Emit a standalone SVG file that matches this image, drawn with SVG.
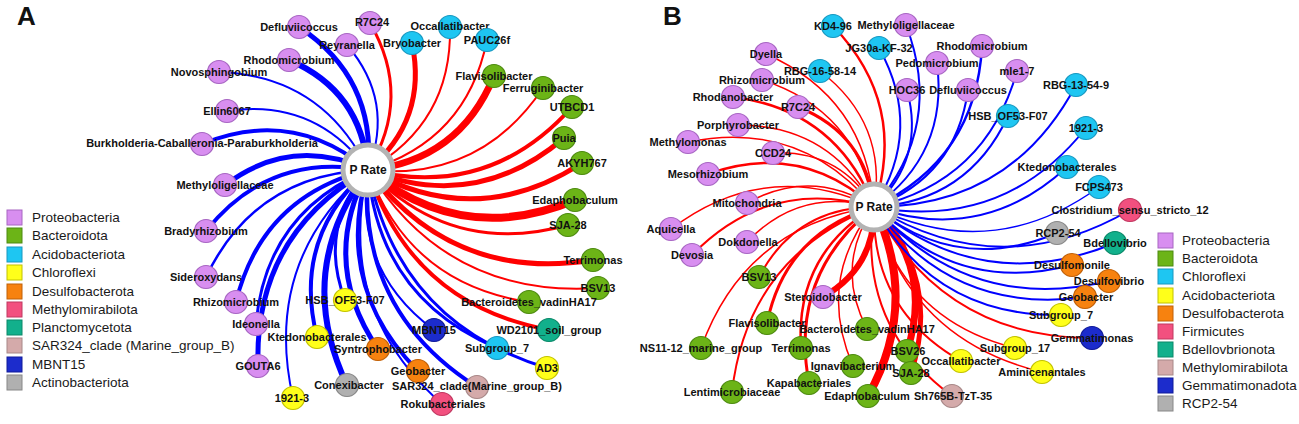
<svg xmlns="http://www.w3.org/2000/svg" width="1299" height="424" viewBox="0 0 1299 424">
<style>
text{font-family:"Liberation Sans",Arial,sans-serif;fill:#111}
.lb{font-size:11px;font-weight:bold;text-anchor:middle}
.lg{font-size:13.5px;fill:#1a1a1a}
.pl{font-size:26px;font-weight:bold}
.ct{font-size:12px;font-weight:bold;text-anchor:middle}
.e{fill:none}
.n{stroke:#0000ff}
.p{stroke:#ff0000}
circle{stroke-width:1.2}
.pro{fill:#d88ef0;stroke:#a766c2}
.bac{fill:#6cb417;stroke:#4d8a10}
.cya{fill:#1ec6f2;stroke:#1898c0}
.yel{fill:#ffff1a;stroke:#c2c200}
.ora{fill:#f7820f;stroke:#c06008}
.pin{fill:#f2507f;stroke:#c03860}
.tea{fill:#12b08c;stroke:#0a8868}
.ros{fill:#d4aaaa;stroke:#a88888}
.blu{fill:#1c2ccc;stroke:#101a99}
.gry{fill:#b0b0b0;stroke:#888888}
.ctr{fill:#ffffff;stroke:#b3b3b3;stroke-width:5}
</style>
<rect width="1299" height="424" fill="#ffffff"/>
<text class="pl" x="17" y="25">A</text>
<text class="pl" x="663" y="25">B</text>

<g id="connectors" class="e">
<g id="edgesA">
<path class="n" stroke-width="5" d="M368 170Q376 78 299 27"/>
<path class="n" stroke-width="2" d="M368 170Q395 101 347 45"/>
<path class="n" stroke-width="6" d="M368 170Q361.5 91 289 60"/>
<path class="n" stroke-width="2" d="M368 170Q323 76 219 72"/>
<path class="n" stroke-width="2" d="M368 170Q315 98 227 111"/>
<path class="n" stroke-width="4" d="M368 170Q293 107 202 144"/>
<path class="n" stroke-width="5" d="M368 170Q292 135 225 185"/>
<path class="n" stroke-width="4" d="M368 170Q269 152 206 231"/>
<path class="n" stroke-width="2.5" d="M368 170Q255 175 206 277"/>
<path class="n" stroke-width="4" d="M368 170Q262 196 236 302"/>
<path class="n" stroke-width="3" d="M368 170Q266 213 256 324"/>
<path class="n" stroke-width="5" d="M368 170Q254 235 258 366"/>
<path class="n" stroke-width="2" d="M368 170Q262 261 293 398"/>
<path class="n" stroke-width="4" d="M368 170Q292 238 317 337"/>
<path class="n" stroke-width="3" d="M368 170Q317.5 228 345 300"/>
<path class="n" stroke-width="6" d="M368 170Q293 271 347 385"/>
<path class="n" stroke-width="5" d="M368 170Q319 262.5 378 349"/>
<path class="n" stroke-width="4" d="M368 170Q333 285.5 418 371"/>
<path class="n" stroke-width="2" d="M368 170Q335 309 442 404"/>
<path class="n" stroke-width="4" d="M368 170Q357 311 477 387"/>
<path class="n" stroke-width="2" d="M368 170Q353 270 434 330"/>
<path class="n" stroke-width="3" d="M368 170Q379 298 497 348"/>
<path class="n" stroke-width="3" d="M368 170Q398 323 547 368"/>
<path class="p" stroke-width="3" d="M368 170Q413 97 370 23"/>
<path class="p" stroke-width="5" d="M368 170Q428 120 412 43"/>
<path class="p" stroke-width="2" d="M368 170Q452 123 450 27"/>
<path class="p" stroke-width="2" d="M368 170Q466.5 141 487 40"/>
<path class="p" stroke-width="7" d="M368 170Q459 161 494 76"/>
<path class="p" stroke-width="2" d="M368 170Q480 181.5 543 88"/>
<path class="p" stroke-width="4" d="M368 170Q489 200 572 107"/>
<path class="p" stroke-width="5" d="M368 170Q475.6 213 564 138"/>
<path class="p" stroke-width="5" d="M368 170Q477 231 582 163"/>
<path class="p" stroke-width="8" d="M368 170Q462.5 247 575 200"/>
<path class="p" stroke-width="3" d="M368 170Q451.5 257.5 568 225"/>
<path class="p" stroke-width="5" d="M368 170Q453.5 282.5 593 260"/>
<path class="p" stroke-width="2" d="M368 170Q447.6 298 598 288"/>
<path class="p" stroke-width="2" d="M368 170Q409 284 529 302"/>
<path class="p" stroke-width="4" d="M368 170Q410.5 304 549 330"/>
</g>
<g id="edgesB">
<path class="p" stroke-width="2.5" d="M874 207Q908 104 833 26"/>
<path class="p" stroke-width="1.5" d="M874 207Q866 98 766 54"/>
<path class="p" stroke-width="1.5" d="M874 207Q888 123 820 71"/>
<path class="p" stroke-width="1.5" d="M874 207Q856 110 762 80"/>
<path class="p" stroke-width="2.5" d="M874 207Q836.5 110 733 97"/>
<path class="p" stroke-width="3" d="M874 207Q866 134 798 107"/>
<path class="p" stroke-width="1.5" d="M874 207Q830.6 125 738 125"/>
<path class="p" stroke-width="1.5" d="M874 207Q800.5 119 688 142"/>
<path class="p" stroke-width="1.5" d="M874 207Q840 150 773 153"/>
<path class="p" stroke-width="2.5" d="M874 207Q801 141 708 174"/>
<path class="p" stroke-width="1.5" d="M874 207Q812 167 747 203"/>
<path class="p" stroke-width="1.5" d="M874 207Q766 157 671 229"/>
<path class="p" stroke-width="2" d="M874 207Q768.6 176.4 692 255"/>
<path class="p" stroke-width="1.5" d="M874 207Q800 186.4 747 242"/>
<path class="p" stroke-width="2" d="M874 207Q795.5 207.5 759 277"/>
<path class="p" stroke-width="6" d="M874 207Q875.5 267 823 297"/>
<path class="p" stroke-width="3" d="M874 207Q785.7 233 767 323"/>
<path class="p" stroke-width="1.5" d="M874 207Q745 225.6 701 348"/>
<path class="p" stroke-width="2.5" d="M874 207Q795 255.6 801 348"/>
<path class="p" stroke-width="2" d="M874 207Q747.5 257 732 392"/>
<path class="p" stroke-width="3" d="M874 207Q788.7 275.5 809 383"/>
<path class="p" stroke-width="1.5" d="M874 207Q815.8 280 853 366"/>
<path class="p" stroke-width="1.5" d="M874 207Q834 266 867 329"/>
<path class="p" stroke-width="8" d="M874 207Q920 303 868 396"/>
<path class="p" stroke-width="7" d="M874 207Q934 269 907 351"/>
<path class="p" stroke-width="5" d="M874 207Q942 279 911 373"/>
<path class="p" stroke-width="2" d="M874 207Q856.3 325 952 396"/>
<path class="p" stroke-width="2" d="M874 207Q871.3 310 961 361"/>
<path class="p" stroke-width="1.5" d="M874 207Q908.5 340 1042 372"/>
<path class="p" stroke-width="1.5" d="M874 207Q902 319.8 1015 348"/>
<path class="p" stroke-width="2" d="M874 207Q943.7 338 1092 338"/>
<path class="n" stroke-width="2" d="M874 207Q944.6 125.6 906 25"/>
<path class="n" stroke-width="2" d="M874 207Q924 129 879 48"/>
<path class="n" stroke-width="2" d="M874 207Q948.7 154 937 63"/>
<path class="n" stroke-width="2" d="M874 207Q925.6 158.4 907 90"/>
<path class="n" stroke-width="2.5" d="M874 207Q976 159 982 46"/>
<path class="n" stroke-width="2" d="M874 207Q956 176.7 968 90"/>
<path class="n" stroke-width="2" d="M874 207Q986 182 1017 71"/>
<path class="n" stroke-width="2" d="M874 207Q968 201.7 1008 116"/>
<path class="n" stroke-width="2" d="M874 207Q1011.6 206.6 1076 85"/>
<path class="n" stroke-width="2" d="M874 207Q1003.7 231 1086 128"/>
<path class="n" stroke-width="2" d="M874 207Q982.5 245 1067 167"/>
<path class="n" stroke-width="1.5" d="M874 207Q992.5 264.5 1099 187"/>
<path class="n" stroke-width="2" d="M874 207Q1001 285 1130 210"/>
<path class="n" stroke-width="2" d="M874 207Q957.7 275 1057 233"/>
<path class="n" stroke-width="2" d="M874 207Q983.7 297.3 1115 243"/>
<path class="n" stroke-width="2" d="M874 207Q955.6 295.4 1072 265"/>
<path class="n" stroke-width="2" d="M874 207Q969.3 314.5 1109 281"/>
<path class="n" stroke-width="2" d="M874 207Q952.5 315.3 1085 297"/>
<path class="n" stroke-width="2" d="M874 207Q935 317 1061 315"/>
</g>
</g>

<g id="nodesA">
<g id="a-prate"><circle class="ctr" cx="368" cy="170" r="25"/><text class="ct" x="368" y="174">P Rate</text></g>
<g id="a-defluviicoccus"><circle class="pro" cx="299" cy="27" r="11.5"/><text class="lb" x="299" y="31">Defluviicoccus</text></g>
<g id="a-reyranella"><circle class="pro" cx="347" cy="45" r="11.5"/><text class="lb" x="347" y="49">Reyranella</text></g>
<g id="a-r7c24"><circle class="pro" cx="370" cy="23" r="11.5"/><text class="lb" x="372" y="26">R7C24</text></g>
<g id="a-rhodomicrobium"><circle class="pro" cx="289" cy="60" r="11.5"/><text class="lb" x="289" y="64">Rhodomicrobium</text></g>
<g id="a-novosphingobium"><circle class="pro" cx="219" cy="72" r="11.5"/><text class="lb" x="219" y="76">Novosphingobium</text></g>
<g id="a-ellin6067"><circle class="pro" cx="227" cy="111" r="11.5"/><text class="lb" x="227" y="115">Ellin6067</text></g>
<g id="a-burkholderia"><circle class="pro" cx="202" cy="144" r="11.5"/><text class="lb" x="202" y="147">Burkholderia-Caballeronia-Paraburkholderia</text></g>
<g id="a-methyloligellaceae"><circle class="pro" cx="225" cy="185" r="11.5"/><text class="lb" x="225" y="189">Methyloligellaceae</text></g>
<g id="a-bradyrhizobium"><circle class="pro" cx="206" cy="231" r="11.5"/><text class="lb" x="206" y="235">Bradyrhizobium</text></g>
<g id="a-sideroxydans"><circle class="pro" cx="206" cy="277" r="11.5"/><text class="lb" x="206" y="281">Sideroxydans</text></g>
<g id="a-rhizomicrobium"><circle class="pro" cx="236" cy="302" r="11.5"/><text class="lb" x="236" y="306">Rhizomicrobium</text></g>
<g id="a-ideonella"><circle class="pro" cx="256" cy="324" r="11.5"/><text class="lb" x="256" y="328">Ideonella</text></g>
<g id="a-gouta6"><circle class="pro" cx="258" cy="366" r="11.5"/><text class="lb" x="258" y="370">GOUTA6</text></g>
<g id="a-bryobacter"><circle class="cya" cx="412" cy="43" r="11.5"/><text class="lb" x="412" y="47">Bryobacter</text></g>
<g id="a-occallatibacter"><circle class="cya" cx="450" cy="27" r="11.5"/><text class="lb" x="450" y="30">Occallatibacter</text></g>
<g id="a-pauc26f"><circle class="cya" cx="487" cy="40" r="11.5"/><text class="lb" x="487" y="44">PAUC26f</text></g>
<g id="a-flavisolibacter"><circle class="bac" cx="494" cy="76" r="11.5"/><text class="lb" x="494" y="80">Flavisolibacter</text></g>
<g id="a-ferruginibacter"><circle class="bac" cx="543" cy="88" r="11.5"/><text class="lb" x="543" y="92">Ferruginibacter</text></g>
<g id="a-utbcd1"><circle class="bac" cx="572" cy="107" r="11.5"/><text class="lb" x="572" y="111">UTBCD1</text></g>
<g id="a-puia"><circle class="bac" cx="564" cy="138" r="11.5"/><text class="lb" x="564" y="142">Puia</text></g>
<g id="a-akyh767"><circle class="bac" cx="582" cy="163" r="11.5"/><text class="lb" x="582" y="167">AKYH767</text></g>
<g id="a-edaphobaculum"><circle class="bac" cx="575" cy="200" r="11.5"/><text class="lb" x="575" y="204">Edaphobaculum</text></g>
<g id="a-sja28"><circle class="bac" cx="568" cy="225" r="11.5"/><text class="lb" x="568" y="229">SJA-28</text></g>
<g id="a-terrimonas"><circle class="bac" cx="593" cy="260" r="11.5"/><text class="lb" x="593" y="264">Terrimonas</text></g>
<g id="a-bsv13"><circle class="bac" cx="598" cy="288" r="11.5"/><text class="lb" x="598" y="292">BSV13</text></g>
<g id="a-vadinha17"><circle class="bac" cx="529" cy="302" r="11.5"/><text class="lb" x="529" y="306">Bacteroidetes_vadinHA17</text></g>
<g id="a-wd2101"><circle class="tea" cx="549" cy="330" r="11.5"/><text class="lb" x="549" y="334">WD2101_soil_group</text></g>
<g id="a-hsb"><circle class="yel" cx="345" cy="300" r="11.5"/><text class="lb" x="345" y="304">HSB_OF53-F07</text></g>
<g id="a-ktedonobacterales"><circle class="yel" cx="317" cy="337" r="11.5"/><text class="lb" x="317" y="341">Ktedonobacterales</text></g>
<g id="a-1921-3"><circle class="yel" cx="293" cy="398" r="11.5"/><text class="lb" x="292" y="402">1921-3</text></g>
<g id="a-conexibacter"><circle class="gry" cx="347" cy="385" r="11.5"/><text class="lb" x="349" y="389">Conexibacter</text></g>
<g id="a-syntrophobacter"><circle class="ora" cx="378" cy="349" r="11.5"/><text class="lb" x="378" y="353">Syntrophobacter</text></g>
<g id="a-mbnt15"><circle class="blu" cx="434" cy="330" r="11.5"/><text class="lb" x="434" y="334">MBNT15</text></g>
<g id="a-geobacter"><circle class="ora" cx="418" cy="371" r="11.5"/><text class="lb" x="418" y="375">Geobacter</text></g>
<g id="a-rokubacteriales"><circle class="pin" cx="442" cy="404" r="11.5"/><text class="lb" x="443" y="408">Rokubacteriales</text></g>
<g id="a-sar324"><circle class="ros" cx="477" cy="387" r="11.5"/><text class="lb" x="477" y="390">SAR324_clade(Marine_group_B)</text></g>
<g id="a-subgroup7"><circle class="cya" cx="497" cy="348" r="11.5"/><text class="lb" x="497" y="352">Subgroup_7</text></g>
<g id="a-ad3"><circle class="yel" cx="547" cy="368" r="11.5"/><text class="lb" x="547" y="372">AD3</text></g>
</g>

<g id="nodesB">
<g id="b-prate"><circle class="ctr" cx="874" cy="207" r="23"/><text class="ct" x="874" y="211">P Rate</text></g>
<g id="b-kd4-96"><circle class="cya" cx="833" cy="26" r="11.5"/><text class="lb" x="833" y="30">KD4-96</text></g>
<g id="b-methyloligellaceae"><circle class="pro" cx="906" cy="25" r="11.5"/><text class="lb" x="906" y="29">Methyloligellaceae</text></g>
<g id="b-jg30a"><circle class="cya" cx="879" cy="48" r="11.5"/><text class="lb" x="879" y="52">JG30a-KF-32</text></g>
<g id="b-dyella"><circle class="pro" cx="766" cy="54" r="11.5"/><text class="lb" x="766" y="58">Dyella</text></g>
<g id="b-rbg16"><circle class="cya" cx="820" cy="71" r="11.5"/><text class="lb" x="820" y="75">RBG-16-58-14</text></g>
<g id="b-rhizomicrobium"><circle class="pro" cx="762" cy="80" r="11.5"/><text class="lb" x="762" y="84">Rhizomicrobium</text></g>
<g id="b-pedomicrobium"><circle class="pro" cx="937" cy="63" r="11.5"/><text class="lb" x="937" y="67">Pedomicrobium</text></g>
<g id="b-hoc36"><circle class="pro" cx="907" cy="90" r="11.5"/><text class="lb" x="907" y="94">HOC36</text></g>
<g id="b-rhodanobacter"><circle class="pro" cx="733" cy="97" r="11.5"/><text class="lb" x="733" y="101">Rhodanobacter</text></g>
<g id="b-r7c24"><circle class="pro" cx="798" cy="107" r="11.5"/><text class="lb" x="798" y="111">R7C24</text></g>
<g id="b-porphyrobacter"><circle class="pro" cx="738" cy="125" r="11.5"/><text class="lb" x="738" y="129">Porphyrobacter</text></g>
<g id="b-methylomonas"><circle class="pro" cx="688" cy="142" r="11.5"/><text class="lb" x="688" y="146">Methylomonas</text></g>
<g id="b-ccd24"><circle class="pro" cx="773" cy="153" r="11.5"/><text class="lb" x="773" y="157">CCD24</text></g>
<g id="b-mesorhizobium"><circle class="pro" cx="708" cy="174" r="11.5"/><text class="lb" x="708" y="178">Mesorhizobium</text></g>
<g id="b-mitochondria"><circle class="pro" cx="747" cy="203" r="11.5"/><text class="lb" x="747" y="207">Mitochondria</text></g>
<g id="b-rhodomicrobium"><circle class="pro" cx="982" cy="46" r="11.5"/><text class="lb" x="982" y="50">Rhodomicrobium</text></g>
<g id="b-defluviicoccus"><circle class="pro" cx="968" cy="90" r="11.5"/><text class="lb" x="968" y="94">Defluviicoccus</text></g>
<g id="b-mle1-7"><circle class="pro" cx="1017" cy="71" r="11.5"/><text class="lb" x="1017" y="75">mle1-7</text></g>
<g id="b-hsb"><circle class="cya" cx="1008" cy="116" r="11.5"/><text class="lb" x="1008" y="120">HSB_OF53-F07</text></g>
<g id="b-rbg13"><circle class="cya" cx="1076" cy="85" r="11.5"/><text class="lb" x="1076" y="89">RBG-13-54-9</text></g>
<g id="b-1921-3"><circle class="cya" cx="1086" cy="128" r="11.5"/><text class="lb" x="1086" y="132">1921-3</text></g>
<g id="b-ktedonobacterales"><circle class="cya" cx="1067" cy="167" r="11.5"/><text class="lb" x="1067" y="171">Ktedonobacterales</text></g>
<g id="b-fcps473"><circle class="cya" cx="1099" cy="187" r="11.5"/><text class="lb" x="1099" y="191">FCPS473</text></g>
<g id="b-clostridium"><circle class="pin" cx="1130" cy="210" r="11.5"/><text class="lb" x="1130" y="214">Clostridium_sensu_stricto_12</text></g>
<g id="b-rcp2-54"><circle class="gry" cx="1057" cy="233" r="11.5"/><text class="lb" x="1058" y="237">RCP2-54</text></g>
<g id="b-bdellovibrio"><circle class="tea" cx="1115" cy="243" r="11.5"/><text class="lb" x="1115" y="247">Bdellovibrio</text></g>
<g id="b-desulfomonile"><circle class="ora" cx="1072" cy="265" r="11.5"/><text class="lb" x="1072" y="269">Desulfomonile</text></g>
<g id="b-desulfovibrio"><circle class="ora" cx="1109" cy="281" r="11.5"/><text class="lb" x="1109" y="285">Desulfovibrio</text></g>
<g id="b-geobacter"><circle class="ora" cx="1085" cy="297" r="11.5"/><text class="lb" x="1086" y="301">Geobacter</text></g>
<g id="b-subgroup7"><circle class="yel" cx="1061" cy="315" r="11.5"/><text class="lb" x="1061" y="319">Subgroup_7</text></g>
<g id="b-gemmatimonas"><circle class="blu" cx="1092" cy="338" r="11.5"/><text class="lb" x="1092" y="342">Gemmatimonas</text></g>
<g id="b-subgroup17"><circle class="yel" cx="1015" cy="348" r="11.5"/><text class="lb" x="1015" y="352">Subgroup_17</text></g>
<g id="b-occallatibacter"><circle class="yel" cx="961" cy="361" r="11.5"/><text class="lb" x="961" y="365">Occallatibacter</text></g>
<g id="b-aminicenantales"><circle class="yel" cx="1042" cy="372" r="11.5"/><text class="lb" x="1042" y="376">Aminicenantales</text></g>
<g id="b-sh765b"><circle class="ros" cx="952" cy="396" r="11.5"/><text class="lb" x="953" y="400">Sh765B-TzT-35</text></g>
<g id="b-aquicella"><circle class="pro" cx="671" cy="229" r="11.5"/><text class="lb" x="671" y="233">Aquicella</text></g>
<g id="b-devosia"><circle class="pro" cx="692" cy="255" r="11.5"/><text class="lb" x="692" y="259">Devosia</text></g>
<g id="b-dokdonella"><circle class="pro" cx="747" cy="242" r="11.5"/><text class="lb" x="748" y="246">Dokdonella</text></g>
<g id="b-bsv13"><circle class="bac" cx="759" cy="277" r="11.5"/><text class="lb" x="759" y="281">BSV13</text></g>
<g id="b-steroidobacter"><circle class="pro" cx="823" cy="297" r="11.5"/><text class="lb" x="823" y="301">Steroidobacter</text></g>
<g id="b-flavisolibacter"><circle class="bac" cx="767" cy="323" r="11.5"/><text class="lb" x="767" y="327">Flavisolibacter</text></g>
<g id="b-vadinha17"><circle class="bac" cx="867" cy="329" r="11.5"/><text class="lb" x="867" y="333">Bacteroidetes_vadinHA17</text></g>
<g id="b-ns11-12"><circle class="bac" cx="701" cy="348" r="11.5"/><text class="lb" x="701" y="352">NS11-12_marine_group</text></g>
<g id="b-terrimonas"><circle class="bac" cx="801" cy="348" r="11.5"/><text class="lb" x="801" y="352">Terrimonas</text></g>
<g id="b-bsv26"><circle class="bac" cx="907" cy="351" r="11.5"/><text class="lb" x="908" y="355">BSV26</text></g>
<g id="b-ignavibacterium"><circle class="bac" cx="853" cy="366" r="11.5"/><text class="lb" x="853" y="370">Ignavibacterium</text></g>
<g id="b-sja28"><circle class="bac" cx="911" cy="373" r="11.5"/><text class="lb" x="911" y="377">SJA-28</text></g>
<g id="b-kapabacteriales"><circle class="bac" cx="809" cy="383" r="11.5"/><text class="lb" x="809" y="387">Kapabacteriales</text></g>
<g id="b-lentimicrobiaceae"><circle class="bac" cx="732" cy="392" r="11.5"/><text class="lb" x="732" y="396">Lentimicrobiaceae</text></g>
<g id="b-edaphobaculum"><circle class="bac" cx="868" cy="396" r="11.5"/><text class="lb" x="867" y="400">Edaphobaculum</text></g>
</g>

<g id="legendA">
<rect class="pro" x="7" y="210" width="15" height="15" stroke="none"/><text class="lg" x="32" y="222">Proteobacteria</text>
<rect class="bac" x="7" y="228" width="15" height="15" stroke="none"/><text class="lg" x="32" y="240">Bacteroidota</text>
<rect class="cya" x="7" y="247" width="15" height="15" stroke="none"/><text class="lg" x="32" y="259">Acidobacteriota</text>
<rect class="yel" x="7" y="265" width="15" height="15" stroke="none"/><text class="lg" x="32" y="277">Chloroflexi</text>
<rect class="ora" x="7" y="284" width="15" height="15" stroke="none"/><text class="lg" x="32" y="296">Desulfobacterota</text>
<rect class="pin" x="7" y="302" width="15" height="15" stroke="none"/><text class="lg" x="32" y="314">Methylomirabilota</text>
<rect class="tea" x="7" y="320" width="15" height="15" stroke="none"/><text class="lg" x="32" y="332">Planctomycetota</text>
<rect class="ros" x="7" y="338" width="15" height="15" stroke="none"/><text class="lg" x="32" y="350">SAR324_clade (Marine_group_B)</text>
<rect class="blu" x="7" y="357" width="15" height="15" stroke="none"/><text class="lg" x="32" y="369">MBNT15</text>
<rect class="gry" x="7" y="375" width="15" height="15" stroke="none"/><text class="lg" x="32" y="387">Actinobacteriota</text>
</g>

<g id="legendB">
<rect class="pro" x="1158" y="233" width="15" height="15" stroke="none"/><text class="lg" x="1182" y="245">Proteobacteria</text>
<rect class="bac" x="1158" y="251" width="15" height="15" stroke="none"/><text class="lg" x="1182" y="263">Bacteroidota</text>
<rect class="cya" x="1158" y="269" width="15" height="15" stroke="none"/><text class="lg" x="1182" y="281">Chloroflexi</text>
<rect class="yel" x="1158" y="288" width="15" height="15" stroke="none"/><text class="lg" x="1182" y="300">Acidobacteriota</text>
<rect class="ora" x="1158" y="306" width="15" height="15" stroke="none"/><text class="lg" x="1182" y="318">Desulfobacterota</text>
<rect class="pin" x="1158" y="324" width="15" height="15" stroke="none"/><text class="lg" x="1182" y="336">Firmicutes</text>
<rect class="tea" x="1158" y="342" width="15" height="15" stroke="none"/><text class="lg" x="1182" y="354">Bdellovbrionota</text>
<rect class="ros" x="1158" y="360" width="15" height="15" stroke="none"/><text class="lg" x="1182" y="372">Methylomirabilota</text>
<rect class="blu" x="1158" y="378" width="15" height="15" stroke="none"/><text class="lg" x="1182" y="390">Gemmatimonadota</text>
<rect class="gry" x="1158" y="396" width="15" height="15" stroke="none"/><text class="lg" x="1182" y="408">RCP2-54</text>
</g>
</svg>
